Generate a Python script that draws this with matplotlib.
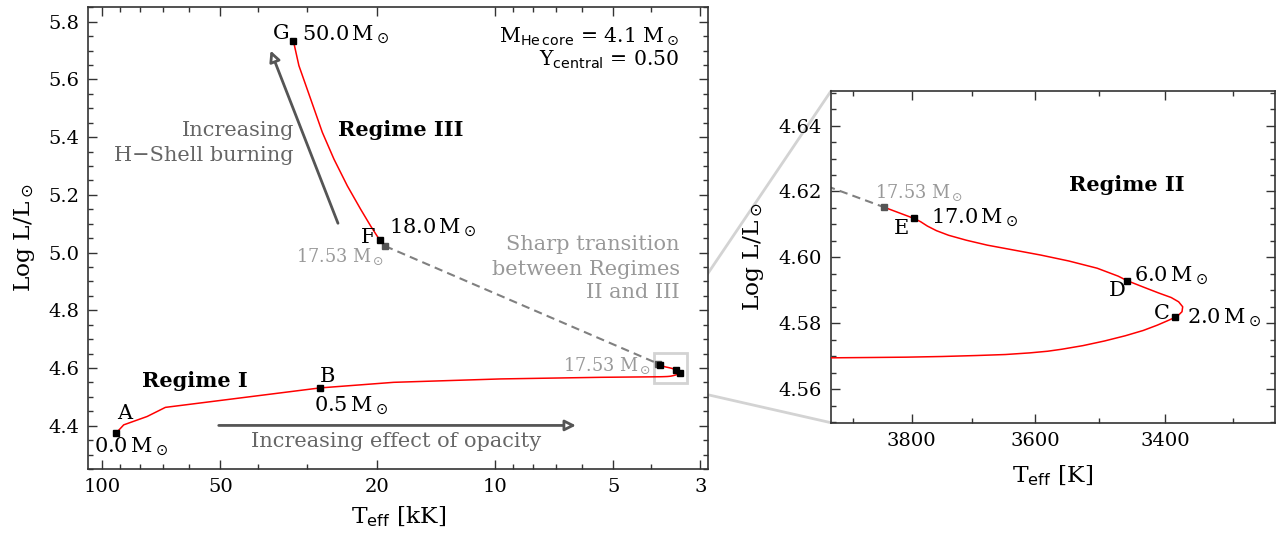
import matplotlib.pyplot as plt
from matplotlib.ticker import FixedLocator, NullFormatter, MultipleLocator, LogLocator
from matplotlib.patches import Rectangle, ConnectionPatch

plt.rcParams['font.family'] = 'DejaVu Serif'
plt.rcParams['mathtext.fontset'] = 'dejavusans'

# Regime I + II track (Teff in K, log L/Lsun)
track_T = [91900, 88100, 76800, 69000, 27900, 18100, 9660, 5370,
           3935, 3868, 3809, 3750, 3693, 3647, 3608, 3580, 3558, 3525, 3492, 3460,
           3433, 3412, 3396, 3385, 3380, 3375, 3374, 3380, 3391, 3410, 3433, 3457,
           3471, 3503, 3547, 3591, 3636, 3676, 3710, 3739, 3759, 3774, 3785, 3796, 3846]
track_L = [4.376, 4.403, 4.432, 4.4636, 4.531, 4.5504, 4.5622, 4.5678,
           4.5695, 4.5696, 4.5697, 4.5699, 4.5702, 4.5705, 4.5710, 4.5715, 4.5721, 4.5732,
           4.5746, 4.5762, 4.5778, 4.5794, 4.5808, 4.5818, 4.5825, 4.5835, 4.5850, 4.5865,
           4.5878, 4.5892, 4.5910, 4.5929, 4.5943, 4.5967, 4.5989, 4.6007, 4.6023, 4.6037,
           4.6052, 4.6067, 4.6081, 4.6095, 4.6108, 4.6118, 4.6152]

# Regime III track
hot_T = [32600, 31550, 29450, 27500, 25690, 23750, 21970, 20720, 19650, 19050]
hot_L = [5.7349, 5.648, 5.5323, 5.4167, 5.3239, 5.2312, 5.1503, 5.0923, 5.0436, 5.0228]

# sharp transition at 17.53 Msun
trans_T = [19050, 3846]
trans_L = [5.0228, 4.6152]

# marked models A..G
mark_names = ['A', 'B', 'C', 'D', 'E', 'F', 'G']
mark_T = [91900, 27900, 3385, 3457, 3796, 19650, 32600]
mark_L = [4.376, 4.531, 4.5818, 4.5929, 4.6118, 5.0436, 5.7349]
mark_mass = ['0.0', '0.5', '2.0', '6.0', '17.0', '18.0', '50.0']

inset_xlim = (3937, 3240)
inset_ylim = (4.5498, 4.6505)

red = 'red'
msun = r'$\,$M$_\odot$'
fs = 15
grey_fs = 12.7

fig = plt.figure(figsize=(12.83, 5.34), dpi=100)
ax = fig.add_axes([0.0686, 0.1217, 0.4835, 0.8646])
axin = fig.add_axes([0.6477, 0.2084, 0.3461, 0.6212])

tk = lambda t: [v / 1000 for v in t]

# ---- main panel
ax.plot(tk(track_T), track_L, color=red, lw=1.1, zorder=3)
ax.plot(tk(hot_T), hot_L, color=red, lw=1.1, zorder=3)
ax.plot(tk(trans_T), trans_L, color='gray', lw=1.5, ls=(0, (4, 2.5)), zorder=2)
ax.plot(tk(mark_T), mark_L, 's', color='black', ms=4.5, ls='none', zorder=5)
ax.plot(tk(trans_T), trans_L, 's', color='#555555', ms=4.5, ls='none', zorder=4)

ax.set_xscale('log')
ax.set_xlim(108.6, 2.862)
ax.set_ylim(4.25, 5.85)
ax.xaxis.set_major_locator(FixedLocator([100, 50, 20, 10, 5, 3]))
ax.xaxis.set_major_formatter(lambda v, p: '%g' % v)
ax.xaxis.set_minor_locator(LogLocator(subs=range(1, 10)))
ax.xaxis.set_minor_formatter(NullFormatter())
ax.yaxis.set_major_locator(MultipleLocator(0.2))
ax.yaxis.set_minor_locator(MultipleLocator(0.05))
ax.set_xlabel(r'T$_{\rm eff}$ [kK]', fontsize=16.8, labelpad=6)
ax.set_ylabel(r'Log L/L$_\odot$', fontsize=16.8, labelpad=8)

ax.text(33.3, 5.758, 'G', fontsize=fs, ha='right', va='center')
ax.text(30.97, 5.7546, '50.0' + msun, fontsize=fs, ha='left', va='center')
ax.text(20.12, 5.053, 'F', fontsize=fs, ha='right', va='center')
ax.text(18.64, 5.0843, '18.0' + msun, fontsize=fs, ha='left', va='center')
ax.text(19.19, 4.986, r'17.53 M$_\odot$', fontsize=grey_fs, color='#999999', ha='right', va='center')
ax.text(87.7, 4.4441, 'A', fontsize=fs, ha='center', va='center')
ax.text(105.1, 4.3281, '0.0' + msun, fontsize=fs, ha='left', va='center')
ax.text(26.71, 4.5712, 'B', fontsize=fs, ha='center', va='center')
ax.text(28.89, 4.467, '0.5' + msun, fontsize=fs, ha='left', va='center')
ax.text(4.006, 4.6084, r'17.53 M$_\odot$', fontsize=grey_fs, color='#999999', ha='right', va='center')

ax.text(17.37, 5.4247, 'Regime III', fontsize=fs, fontweight='bold', ha='center', va='center')
ax.text(58.2, 4.5539, 'Regime I', fontsize=fs, fontweight='bold', ha='center', va='center')

ax.text(32.49, 5.4222, 'Increasing', fontsize=fs, color='#666666', ha='right', va='center')
ax.text(32.49, 5.3354, 'H\u2212Shell burning', fontsize=fs, color='#666666', ha='right', va='center')
ax.annotate('', xy=(37.25, 5.7001), xytext=(25.09, 5.1016),
            arrowprops=dict(arrowstyle='-|>', color='#555555', fc='white', lw=2,
                            mutation_scale=16, shrinkA=0, shrinkB=0))
ax.annotate('', xy=(6.22, 4.401), xytext=(50.47, 4.401),
            arrowprops=dict(arrowstyle='-|>', color='#555555', fc='white', lw=2,
                            mutation_scale=16, shrinkA=0, shrinkB=0))
ax.text(17.8, 4.3455, 'Increasing effect of opacity', fontsize=fs, color='#666666',
        ha='center', va='center')

for yy, s in zip([5.0287, 4.9419, 4.8609], ['Sharp transition', 'between Regimes', 'II and III']):
    ax.text(3.38, yy, s, fontsize=fs, color='#999999', ha='right', va='center')

ax.text(0.9528, 0.938, r'M$_{\rm He\,core}$ = 4.1 M$_\odot$', fontsize=14.7,
        transform=ax.transAxes, ha='right', va='center')
ax.text(0.9528, 0.886, r'Y$_{\rm central}$ = 0.50', fontsize=14.7,
        transform=ax.transAxes, ha='right', va='center')

# zoom box in main panel
x0, x1 = inset_xlim[1] / 1000, inset_xlim[0] / 1000
ax.add_patch(Rectangle((x0, inset_ylim[0]), x1 - x0, inset_ylim[1] - inset_ylim[0],
                       fill=False, ec='#d3d3d3', lw=2, zorder=1))

# ---- inset panel
axin.plot(track_T, track_L, color=red, lw=1.1, zorder=3)
axin.plot(trans_T, trans_L, color='gray', lw=1.5, ls=(0, (4, 2.5)), zorder=2)
axin.plot(mark_T[2:5], mark_L[2:5], 's', color='black', ms=4.5, ls='none', zorder=5)
axin.plot(trans_T[1:], trans_L[1:], 's', color='#555555', ms=4.5, ls='none', zorder=4)
axin.set_xscale('log')
axin.set_xlim(*inset_xlim)
axin.set_ylim(*inset_ylim)
axin.xaxis.set_major_locator(FixedLocator([3800, 3600, 3400]))
axin.xaxis.set_major_formatter(lambda v, p: '%d' % v)
axin.xaxis.set_minor_locator(FixedLocator([3900, 3700, 3500, 3300]))
axin.xaxis.set_minor_formatter(NullFormatter())
axin.yaxis.set_major_locator(MultipleLocator(0.02))
axin.yaxis.set_minor_locator(MultipleLocator(0.005))
axin.set_xlabel(r'T$_{\rm eff}$ [K]', fontsize=16.8, labelpad=10)
axin.set_ylabel(r'Log L/L$_\odot$', fontsize=16.8, labelpad=9)

axin.text(3458, 4.6221, 'Regime II', fontsize=fs, fontweight='bold', ha='center', va='center')
axin.text(3862, 4.6195, r'17.53 M$_\odot$', fontsize=grey_fs, color='#999999', ha='left', va='center')
axin.text(3768, 4.6120, '17.0' + msun, fontsize=fs, ha='left', va='center')
axin.text(3818, 4.6087, 'E', fontsize=fs, ha='center', va='center')
axin.text(3447, 4.5945, '6.0' + msun, fontsize=fs, ha='left', va='center')
axin.text(3473, 4.5900, 'D', fontsize=fs, ha='center', va='center')
axin.text(3405, 4.5829, 'C', fontsize=fs, ha='center', va='center')
axin.text(3368, 4.5817, '2.0' + msun, fontsize=fs, ha='left', va='center')

for a in (ax, axin):
    a.tick_params(which='both', direction='in', top=True, right=True, labelsize=14,
                  pad=6.5, color='#333333', width=1)
    a.tick_params(which='major', length=6.5)
    a.tick_params(which='minor', length=3.5)
    for sp in a.spines.values():
        sp.set_color('#333333')
        sp.set_linewidth(1.2)

# connector lines from zoom box to inset
for yb, ya in ((1, inset_ylim[1]), (0, inset_ylim[0])):
    con = ConnectionPatch(xyA=(x1, ya), coordsA=ax.transData, xyB=(0, yb),
                          coordsB=axin.transAxes, color='#d3d3d3', lw=2, zorder=0)
    fig.add_artist(con)

fig.savefig('out.png', dpi=100)
